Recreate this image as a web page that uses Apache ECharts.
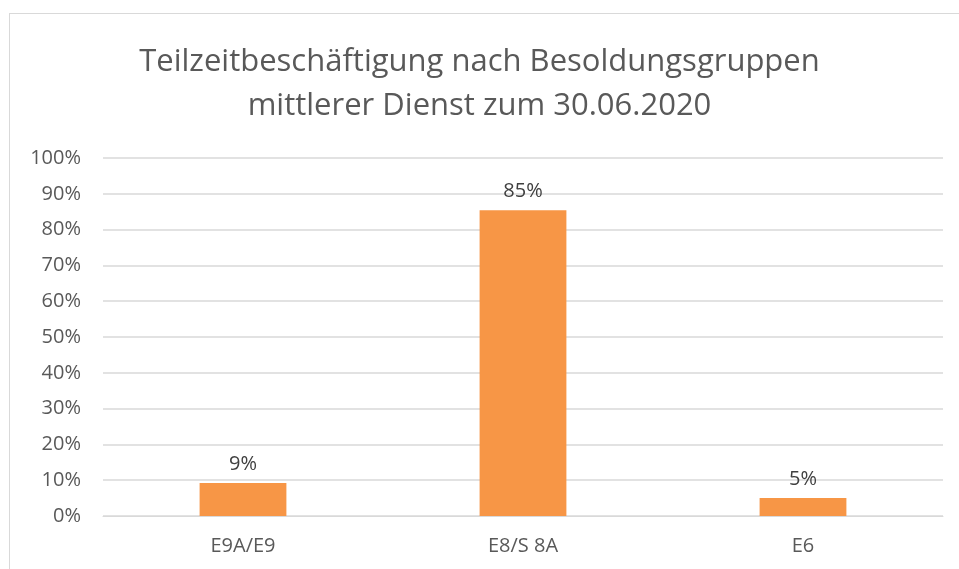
<!DOCTYPE html>
<html>
<head>
<meta charset="utf-8">
<script src="https://cdn.jsdelivr.net/npm/echarts@6/dist/echarts.min.js"></script>
<style>
  html, body { margin: 0; padding: 0; background: #fff; }
  #frame { position: absolute; left: 9px; top: 13px; width: 960px; height: 570px; border: 1px solid #d9d9d9; box-sizing: border-box; }
  #chart { position: absolute; left: 0; top: 0; width: 959px; height: 569px; }
</style>
</head>
<body>
<div id="frame"></div>
<div id="chart"></div>
<script>
// Teilzeit nach Besoldungsgruppen
const categories = ["E9A/E9", "E8/S 8A", "E6"];
const shares = [9.2, 85.4, 5.0];
const yTicks = [0, 10, 20, 30, 40, 50, 60, 70, 80, 90, 100];

const chart = echarts.init(document.getElementById("chart"), null, { renderer: "canvas" });

const font = "'Open Sans', 'Liberation Sans', sans-serif";

chart.setOption({
  animation: false,
  title: {
    text: "Teilzeitbeschäftigung nach Besoldungsgruppen\nmittlerer Dienst zum 30.06.2020",
    left: "center",
    top: 35,
    textStyle: {
      color: "#595959",
      fontSize: 31,
      fontWeight: "normal",
      fontFamily: font,
      lineHeight: 44
    }
  },
  grid: { left: 103, right: 16, top: 158, bottom: 53 },
  xAxis: {
    type: "category",
    data: categories,
    axisLine: { lineStyle: { color: "#d9d9d9" } },
    axisTick: { show: false },
    axisLabel: { color: "#595959", fontSize: 20, fontFamily: font, margin: 20 }
  },
  yAxis: {
    type: "value",
    min: yTicks[0],
    max: yTicks[yTicks.length - 1],
    interval: 10,
    axisLine: { show: false },
    axisTick: { show: false },
    splitLine: { lineStyle: { color: "#d9d9d9", width: 1.5 } },
    axisLabel: { color: "#595959", fontSize: 20, fontFamily: font, margin: 22, formatter: v => v + "%" }
  },
  series: [{
    type: "bar",
    data: shares,
    barWidth: "31%",
    itemStyle: { color: "#F79646" },
    label: {
      show: true,
      position: "top",
      distance: 9,
      color: "#404040",
      fontSize: 20,
      fontFamily: font,
      formatter: p => Math.round(p.value) + "%"
    }
  }]
});
</script>
</body>
</html>
